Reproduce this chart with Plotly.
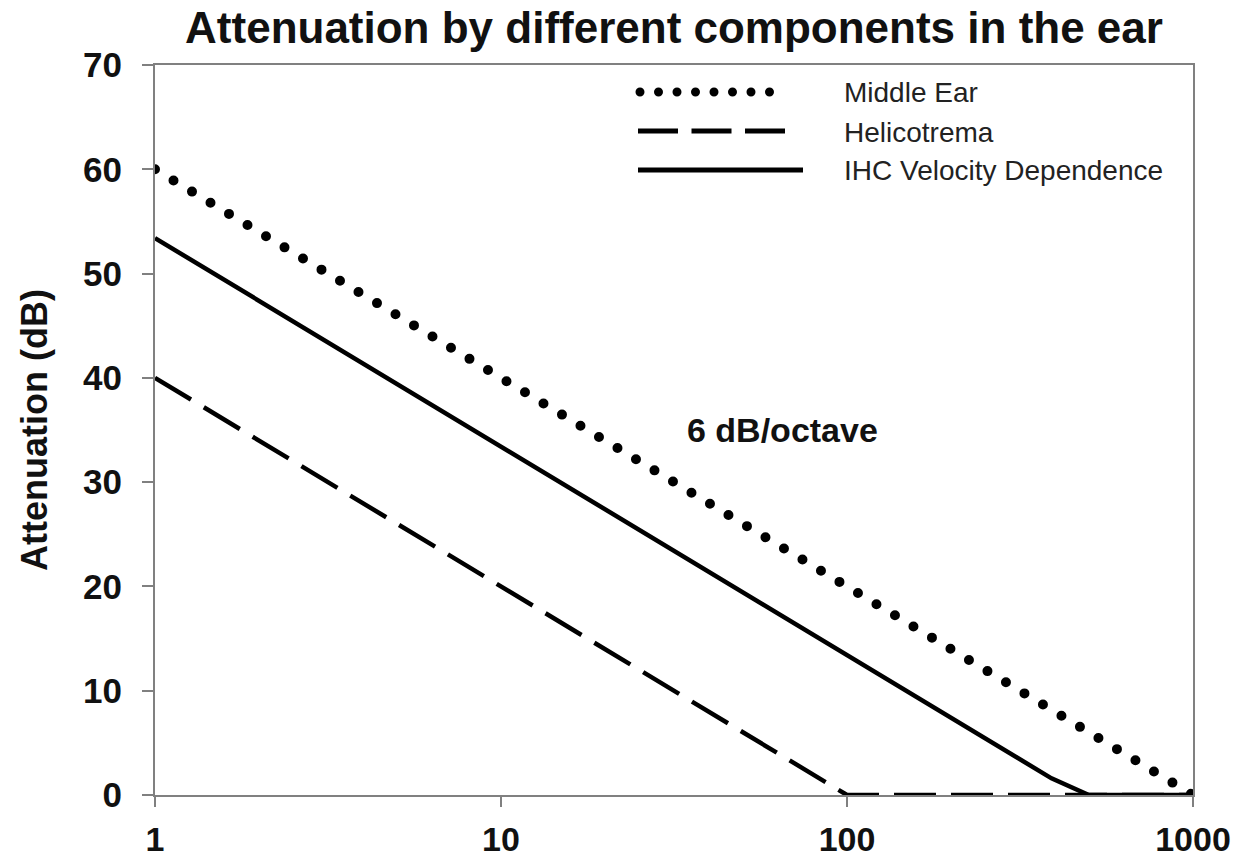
import plotly.graph_objects as go
import math

# ---------------- data ----------------
freq_middle = [1, 1000]
att_middle = [60, 0]

freq_heli = [1, 100, 1000]
att_heli = [40, 0, 0]

freq_ihc = [1, 390, 500, 1000]
att_ihc = [53.4, 1.6, 0, 0]

series_names = ["Middle Ear", "Helicotrema", "IHC Velocity Dependence"]

x_tickvals = [1, 10, 100, 1000]
x_ticktext = ["1", "10", "100", "1000"]
y_tickvals = [0, 10, 20, 30, 40, 50, 60, 70]

slope_label = "6 dB/octave"
slope_label_freq = 34.1
slope_label_att = 35

title_text = "Attenuation by different components in the ear"
y_title = "Attenuation (dB)"

FONT = "Liberation Sans, Arial, Helvetica, sans-serif"

fig = go.Figure()
fig.add_trace(go.Scatter(x=freq_middle, y=att_middle, mode="lines", name=series_names[0],
                         line=dict(color="black", width=10, dash="0px,21.6px"),
                         cliponaxis=False, showlegend=False))
fig.add_trace(go.Scatter(x=freq_heli, y=att_heli, mode="lines", name=series_names[1],
                         line=dict(color="black", width=4.5, dash="42px,15px"),
                         cliponaxis=False, showlegend=False))
fig.add_trace(go.Scatter(x=freq_ihc, y=att_ihc, mode="lines", name=series_names[2],
                         line=dict(color="black", width=4.5),
                         cliponaxis=False, showlegend=False))

# manual legend (paper coordinates)
W_PLOT = 1038.0
H_PLOT = 730.0
def px(xp):
    return (xp - 155) / W_PLOT
def py(yp):
    return (795 - yp) / H_PLOT

legend_rows = [92, 131, 170]
legend_styles = [
    dict(x0=640, x1=788, width=9, dash="0px,18.5px"),
    dict(x0=638, x1=785, width=5, dash="40px,13.5px"),
    dict(x0=638, x1=803, width=5, dash="solid"),
]
for name, row, st in zip(series_names, legend_rows, legend_styles):
    fig.add_shape(type="line", xref="paper", yref="paper",
                  x0=px(st["x0"]), x1=px(st["x1"]), y0=py(row), y1=py(row),
                  line=dict(color="black", width=st["width"], dash=st["dash"]))
    fig.add_annotation(xref="paper", yref="paper", x=px(842), y=py(row + 1),
                       text=name, showarrow=False, xanchor="left", yanchor="middle",
                       font=dict(family=FONT, size=28, color="#222"))

fig.add_annotation(x=math.log10(slope_label_freq), y=slope_label_att, xref="x", yref="y",
                   text=slope_label, showarrow=False, xanchor="left", yanchor="middle",
                   font=dict(family=FONT, size=34, color="#111", weight="bold"))

fig.update_layout(
    width=1246, height=866,
    margin=dict(l=155, r=53, t=65, b=71),
    paper_bgcolor="white", plot_bgcolor="white",
    font=dict(family=FONT, color="black"),
    title=dict(text=title_text, x=(674) / 1246, xanchor="center",
               y=1 - 28 / 866, yanchor="middle", yref="container",
               font=dict(family=FONT, size=44, color="#111", weight="bold")),
)
fig.update_xaxes(type="log", range=[0, 3], tickvals=x_tickvals, ticktext=x_ticktext,
                 ticks="outside", ticklen=10, tickwidth=2, tickcolor="#808080",
                 showline=True, linecolor="#808080", linewidth=2, mirror=True,
                 showgrid=False, zeroline=False, layer="below traces",
                 automargin=False, ticklabelstandoff=3,
                 tickfont=dict(family=FONT, size=34, color="#111", weight="bold"))
fig.update_yaxes(range=[0, 70], tickvals=y_tickvals,
                 ticks="outside", ticklen=11, tickwidth=2, tickcolor="#808080",
                 showline=True, linecolor="#808080", linewidth=2, mirror=True,
                 showgrid=False, zeroline=False, layer="below traces",
                 automargin=False, ticklabelstandoff=13,
                 tickfont=dict(family=FONT, size=35, color="#111", weight="bold"),
                 title=dict(text=y_title, standoff=24,
                            font=dict(family=FONT, size=36, color="#111", weight="bold")))

post_js = """
var gd = document.getElementById('{plot_id}');
function roundDots(){
  gd.querySelectorAll('path').forEach(function(p){
    var d = (p.style.strokeDasharray || '').replace(/\\s/g, '');
    if (d.indexOf('0px,') === 0) { p.style.strokeLinecap = 'round'; }
  });
}
roundDots();
gd.on('plotly_afterplot', roundDots);
"""

fig.write_html("out.html", post_script=post_js)
